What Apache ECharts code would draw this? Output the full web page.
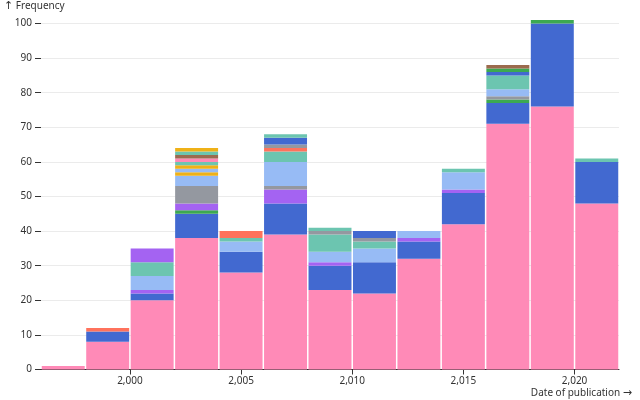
<!DOCTYPE html>
<html>
<head>
<meta charset="utf-8">
<script src="https://cdn.jsdelivr.net/npm/echarts@6/dist/echarts.min.js"></script>
<style>
  html, body { margin: 0; padding: 0; background: #fff; }
</style>
</head>
<body>
<div id="histChart" style="width: 640px; height: 400px;"></div>
<script>
// bin starts (each bin is 2 years wide)
const binStarts = [1996, 1998, 2000, 2002, 2004, 2006, 2008, 2010, 2012, 2014, 2016, 2018, 2020]
const binWidth = 2
const xTicks = [2000, 2005, 2010, 2015, 2020]

// counts per bin, in stacking order (bottom to top)
const group01 = [1, 8, 20, 38, 28, 39, 23, 22, 32, 42, 71, 76, 48]
const group02 = [0, 3, 2, 7, 6, 9, 7, 9, 5, 9, 6, 24, 12]
const group03 = [0, 0, 0, 1, 0, 0, 0, 0, 0, 0, 1, 1, 0]
const group04 = [0, 0, 1, 2, 0, 4, 1, 0, 1, 1, 0, 0, 0]
const group05 = [0, 0, 0, 5, 0, 1, 0, 0, 0, 0, 1, 0, 0]
const group06 = [0, 0, 4, 3, 3, 7, 3, 4, 2, 5, 2, 0, 0]
const group07 = [0, 0, 0, 1, 0, 0, 0, 0, 0, 0, 0, 0, 0]
const group08 = [0, 0, 0, 1, 0, 0, 0, 0, 0, 0, 0, 0, 0]
const group09 = [0, 0, 0, 1, 0, 0, 0, 0, 0, 0, 0, 0, 0]
const group10 = [0, 0, 4, 1, 1, 3, 5, 2, 0, 1, 4, 0, 1]
const group11 = [0, 0, 0, 1, 0, 0, 0, 0, 0, 0, 0, 0, 0]
const group12 = [0, 0, 0, 1, 0, 0, 0, 0, 0, 0, 0, 0, 0]
const group13 = [0, 0, 0, 1, 0, 0, 0, 0, 0, 0, 0, 0, 0]
const group14 = [0, 0, 0, 1, 0, 0, 0, 0, 0, 0, 0, 0, 0]
const group15 = [0, 1, 0, 0, 2, 1, 0, 0, 0, 0, 0, 0, 0]
const group16 = [0, 0, 0, 0, 0, 1, 1, 1, 0, 0, 0, 0, 0]
const group17 = [0, 0, 0, 0, 0, 2, 0, 2, 0, 0, 1, 0, 0]
const group18 = [0, 0, 0, 0, 0, 0, 0, 0, 0, 0, 1, 0, 0]
const group19 = [0, 0, 0, 0, 0, 0, 0, 0, 0, 0, 1, 0, 0]
const group20 = [0, 0, 0, 0, 0, 1, 1, 0, 0, 0, 0, 0, 0]
const group21 = [0, 0, 4, 0, 0, 0, 0, 0, 0, 0, 0, 0, 0]

const groups = [
  { name: 'Group 1', values: group01, color: '#ff8ab7' },
  { name: 'Group 2', values: group02, color: '#4269d0' },
  { name: 'Group 3', values: group03, color: '#3ca951' },
  { name: 'Group 4', values: group04, color: '#a463f2' },
  { name: 'Group 5', values: group05, color: '#9498a0' },
  { name: 'Group 6', values: group06, color: '#97bbf5' },
  { name: 'Group 7', values: group07, color: '#efb118' },
  { name: 'Group 8', values: group08, color: '#97bbf5' },
  { name: 'Group 9', values: group09, color: '#efb118' },
  { name: 'Group 10', values: group10, color: '#6cc5b0' },
  { name: 'Group 11', values: group11, color: '#ff8ab7' },
  { name: 'Group 12', values: group12, color: '#9c6b4e' },
  { name: 'Group 13', values: group13, color: '#6cc5b0' },
  { name: 'Group 14', values: group14, color: '#efb118' },
  { name: 'Group 15', values: group15, color: '#ff725c' },
  { name: 'Group 16', values: group16, color: '#9498a0' },
  { name: 'Group 17', values: group17, color: '#4269d0' },
  { name: 'Group 18', values: group18, color: '#3ca951' },
  { name: 'Group 19', values: group19, color: '#9c6b4e' },
  { name: 'Group 20', values: group20, color: '#6cc5b0' },
  { name: 'Group 21', values: group21, color: '#a463f2' }
]

const fontFamily = '"Noto Sans", sans-serif'
const arrowFont = '"DejaVu Sans", sans-serif'
const chart = echarts.init(document.getElementById('histChart'))

// running totals so each group sits on top of the previous ones
const totals = binStarts.map(() => 0)
const series = groups.map(g => {
  const data = []
  g.values.forEach((v, i) => {
    if (v > 0) {
      data.push([binStarts[i], binStarts[i] + binWidth, totals[i], totals[i] + v])
    }
    totals[i] += v
  })
  return {
    name: g.name,
    type: 'custom',
    clip: false,
    encode: { x: [0, 1], y: [2, 3] },
    renderItem: (params, api) => {
      const p0 = api.coord([api.value(0), api.value(2)])
      const p1 = api.coord([api.value(1), api.value(3)])
      return {
        type: 'rect',
        shape: { x: p0[0] + 0.75, y: p1[1], width: p1[0] - p0[0] - 1.5, height: p0[1] - p1[1] },
        style: { fill: g.color }
      }
    },
    data: data
  }
})

chart.setOption({
  animation: false,
  grid: { left: 41, right: 21, top: 23.5, bottom: 30.5 },
  xAxis: {
    type: 'value',
    min: 1996,
    max: 2022,
    splitLine: { show: false },
    axisLine: { show: true, lineStyle: { color: '#333', width: 1 } },
    axisTick: { show: true, length: 5, lineStyle: { color: '#333' }, customValues: xTicks },
    axisLabel: {
      customValues: xTicks,
      margin: 7,
      color: '#333',
      fontSize: 10,
      fontFamily: fontFamily,
      formatter: v => v.toLocaleString('en-US')
    }
  },
  yAxis: {
    type: 'value',
    min: 0,
    max: 100,
    interval: 10,
    axisLine: { show: false },
    axisTick: { show: true, length: 6, lineStyle: { color: '#333' } },
    axisLabel: { margin: 9, color: '#333', fontSize: 10, fontFamily: fontFamily },
    splitLine: { lineStyle: { color: '#ebebeb' } }
  },
  graphic: [
    {
      type: 'text',
      left: 4,
      top: 1,
      style: {
        text: '{a|↑} Frequency',
        fill: '#333',
        fontSize: 10,
        fontFamily: fontFamily,
        rich: { a: { fontFamily: arrowFont, fontSize: 11, fill: '#333' } }
      }
    },
    {
      type: 'text',
      right: 8,
      top: 388,
      style: {
        text: 'Date of publication {a|→}',
        fill: '#333',
        fontSize: 10,
        fontFamily: fontFamily,
        rich: { a: { fontFamily: arrowFont, fontSize: 11, fill: '#333' } }
      }
    }
  ],
  series: series
})
</script>
</body>
</html>
